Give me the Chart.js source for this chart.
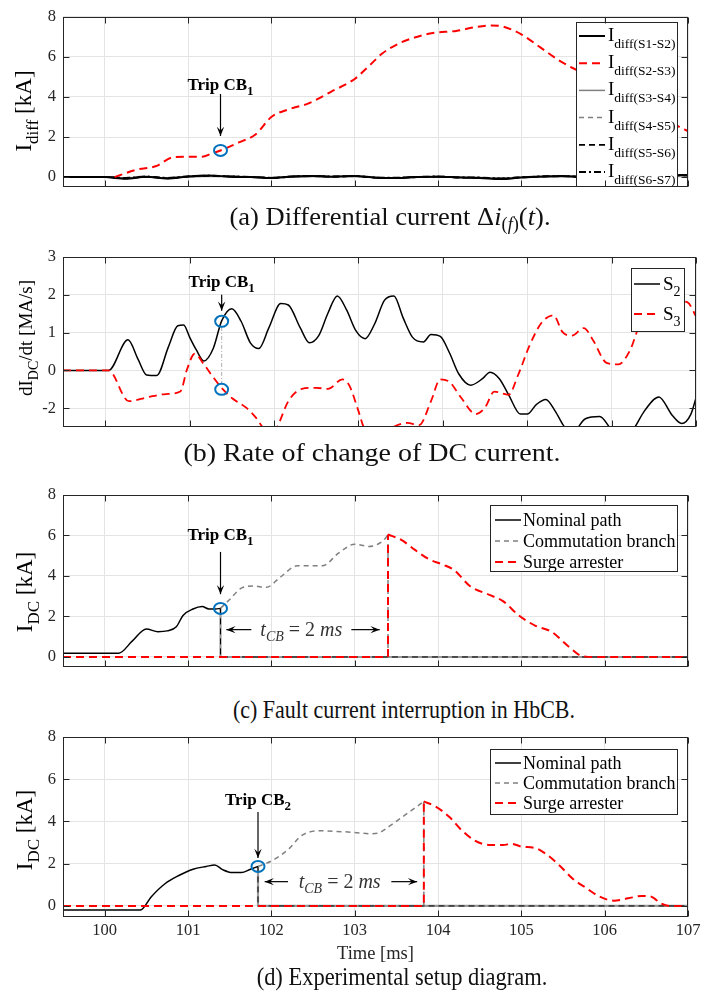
<!DOCTYPE html>
<html>
<head>
<meta charset="utf-8">
<title>HbCB fault current</title>
<script src="https://cdn.jsdelivr.net/npm/chart.js@4.4.1/dist/chart.umd.min.js"></script>
<style>
  html, body { margin: 0; padding: 0; background: #fff; }
  body { position: relative; width: 723px; height: 992px; overflow: hidden;
         font-family: "Liberation Serif", "Times New Roman", serif; color: #111; }
  canvas { position: absolute; left: 0; }
  .cap { position: absolute; font-size: 26px; white-space: nowrap; }
  .cap sub { font-size: 18px; vertical-align: -5px; }
</style>
</head>
<body>
<canvas id="chartA" width="723" height="204" style="top:0px"></canvas>
<div class="cap" style="left:390px;top:218px;transform:translate(-50%,-50%) scaleX(1.02)">(a) Differential current &Delta;<i>i</i><sub>(<i>f</i>)</sub>(<i>t</i>).</div>
<canvas id="chartB" width="723" height="204" style="top:240px"></canvas>
<div class="cap" style="left:372px;top:453px;transform:translate(-50%,-50%) scaleX(1.077)">(b) Rate of change of DC current.</div>
<canvas id="chartC" width="723" height="206" style="top:478px"></canvas>
<div class="cap" style="left:404px;top:710px;transform:translate(-50%,-50%) scaleX(0.846)">(c) Fault current interruption in HbCB.</div>
<canvas id="chartD" width="723" height="245" style="top:720px"></canvas>
<div class="cap" style="left:402px;top:977px;transform:translate(-50%,-50%) scaleX(0.864)">(d) Experimental setup diagram.</div>

<script>
const SERIF = '"Liberation Serif", "Times New Roman", serif';
const GRID = "#e4e4e4";
const AXIS = "#262626";
const RED = "#ff0000";
const GRAY = "#808080";
const BLUE = "#0072bd";

// shared time axis [ms]
const xMin = 99.5;
const xMax = 107;
const xTicks = [100, 101, 102, 103, 104, 105, 106, 107];

// (a) differential currents [kA]
const aTicks = [0, 2, 4, 6, 8];
const aPairs = ["S1-S2", "S2-S3", "S3-S4", "S4-S5", "S5-S6", "S6-S7"];
const aNoiseT = [99.5, 100, 100.25, 100.5, 100.75, 101, 101.25, 101.5, 101.75, 102, 102.25, 102.5, 102.75, 103, 103.25,
  103.5, 103.75, 104, 104.25, 104.5, 104.75, 105, 105.25, 105.5, 105.75, 106, 106.25, 106.5, 106.75, 107];
const aS1S2 = [0, 0, -0.08, 0.02, -0.07, 0.03, 0.08, 0.02, 0, -0.05, 0.03, 0.05, 0.02, 0.06, -0.03,
  -0.05, 0, 0.02, -0.02, -0.04, -0.1, -0.02, 0.03, 0.05, 0, 0.02, 0.06, 0.05, 0.08, 0.1];
const aS3S4 = [0, 0, -0.05, 0, -0.05, 0.02, 0.05, 0.03, 0.02, -0.03, 0.02, 0.04, 0.03, 0.04, -0.02,
  -0.04, 0.01, 0.01, -0.01, -0.03, -0.07, -0.01, 0.02, 0.04, 0.01, 0.03, 0.05, 0.04, 0.06, 0.08];
const aS4S5 = [0, 0, -0.03, 0.01, -0.03, 0.01, 0.04, 0.02, 0.01, -0.02, 0.01, 0.03, 0.02, 0.03, -0.02,
  -0.03, 0.01, 0, -0.01, -0.02, -0.05, 0, 0.02, 0.03, 0.01, 0.02, 0.04, 0.03, 0.05, 0.06];
const aS5S6 = [0, 0, -0.06, 0.01, -0.06, 0.02, 0.06, 0.03, 0, -0.04, 0.02, 0.05, 0.02, 0.05, -0.03,
  -0.04, 0, 0.02, -0.02, -0.03, -0.08, -0.02, 0.03, 0.04, 0, 0.02, 0.05, 0.05, 0.07, 0.09];
const aS6S7 = [0, 0, -0.04, 0.03, -0.04, 0.04, 0.07, 0.04, 0.01, -0.03, 0.03, 0.06, 0.03, 0.05, -0.02,
  -0.03, 0.01, 0.03, -0.01, -0.02, -0.06, -0.01, 0.04, 0.05, 0.02, 0.03, 0.06, 0.06, 0.09, 0.11];
const aS2S3T = [100.12, 100.39, 100.61, 100.83, 101, 101.17, 101.28, 101.39, 101.61, 101.81, 102, 102.22, 102.44,
  102.72, 103, 103.17, 103.33, 103.56, 103.72, 103.94, 104.22, 104.44, 104.64, 104.78, 105, 105.22, 105.44,
  105.61, 105.8, 106.2, 106.6, 106.89, 107];
const aS2S3 = [0, 0.38, 0.54, 1.0, 1.02, 1.02, 1.17, 1.33, 1.73, 2.13, 3.0, 3.4, 3.67,
  4.27, 4.9, 5.54, 6.17, 6.73, 6.97, 7.2, 7.3, 7.48, 7.57, 7.52, 7.13, 6.5, 5.86,
  5.46, 5.1, 4.2, 3.2, 2.52, 2.29];

// (b) dI/dt [MA/s]; the negative half of the axis is drawn at half scale
const bTicks = [-2, 0, 1, 2, 3];
const bSeries = ["2", "3"];
const bS2T = [99.5, 100.04, 100.27, 100.39, 100.49, 100.61, 100.75, 100.86, 100.93, 101, 101.08, 101.17, 101.28,
  101.38, 101.5, 101.61, 101.72, 101.82, 101.94, 102.08, 102.17, 102.31, 102.42, 102.53, 102.64, 102.75, 102.86,
  102.97, 103.08, 103.19, 103.31, 103.42, 103.53, 103.64, 103.77, 103.86, 103.97, 104.08, 104.19, 104.33, 104.47,
  104.56, 104.67, 104.78, 104.92, 105, 105.11, 105.22, 105.33, 105.44, 105.53, 105.69, 105.86, 105.97, 106.05,
  106.25, 106.39, 106.56, 106.72, 106.83, 106.94, 107];
const bS2 = [0, 0, 0.81, 0.29, -0.24, -0.27, 0.63, 1.18, 1.2, 0.88, 0.54, 0.25, 0.58,
  1.31, 1.63, 1.3, 0.73, 0.58, 1.13, 1.77, 1.73, 1.13, 0.73, 0.92, 1.52, 1.97, 1.6,
  1.05, 0.84, 1.22, 1.86, 1.97, 1.39, 0.88, 0.75, 0.95, 0.9, 0.46, -0.19, -0.78, -0.44,
  -0.1, -0.44, -1.29, -2.31, -2.31, -1.8, -1.54, -2.14, -2.98, -3.3, -2.56, -2.44, -2.98, -3.5,
  -3.15, -2.14, -1.41, -2.39, -2.81, -2.31, -1.46];
const bS3T = [99.5, 100.04, 100.28, 100.5, 100.72, 100.89, 100.97, 101.06, 101.17, 101.28, 101.39, 101.5, 101.67,
  101.78, 101.86, 101.95, 102.04, 102.17, 102.33, 102.5, 102.64, 102.81, 102.89, 103, 103.06, 103.2, 103.42,
  103.58, 103.72, 103.86, 103.97, 104.08, 104.22, 104.39, 104.5, 104.61, 104.78, 104.89, 105.03, 105.17, 105.31,
  105.42, 105.53, 105.67, 105.78, 105.94, 106.08, 106.22, 106.33, 106.5, 106.7, 106.9, 107];
const bS3 = [0, 0, -1.63, -1.42, -1.25, -1.12, 0.03, 0.44, 0.16, -0.36, -0.98, -1.46, -1.97,
  -2.47, -2.98, -3.6, -2.98, -1.63, -0.98, -0.92, -0.98, -0.47, -0.78, -2.14, -2.98, -3.8, -2.98,
  -2.78, -2.9, -1.63, -0.47, -0.61, -1.46, -2.31, -1.97, -1.12, -1.29, -0.27, 0.67, 1.26, 1.46,
  1.01, 0.92, 1.12, 0.8, 0.2, 0.16, 0.54, 1.18, 1.55, 1.85, 1.8, 1.43];

// (c) HbCB branch currents [kA]
const pathNames = ["Nominal path", "Commutation branch", "Surge arrester"];
const cNomT = [99.5, 100.17, 100.33, 100.5, 100.64, 100.75, 100.86, 100.94, 101.06, 101.17, 101.25, 101.33, 101.39];
const cNom = [0.19, 0.19, 0.78, 1.38, 1.25, 1.29, 1.49, 2.05, 2.37, 2.49, 2.37, 2.37, 2.4];
const cComT = [101.39, 101.5, 101.64, 101.78, 101.94, 102.11, 102.31, 102.61, 102.81, 103, 103.17, 103.33, 103.4];
const cCom = [2.4, 2.84, 3.4, 3.5, 3.44, 3.95, 4.5, 4.5, 5.14, 5.57, 5.46, 5.7, 6.02];
const cSurT = [103.4, 103.56, 103.72, 103.89, 104.06, 104.19, 104.39, 104.61, 104.78, 104.97, 105.17, 105.36,
  105.56, 105.72, 105.89, 107];
const cSur = [6.05, 5.78, 5.3, 4.83, 4.56, 4.3, 3.48, 3.08, 2.76, 2.05, 1.54, 1.25, 0.54, 0.06, 0, 0];

// (d) experimental setup [kA]
const dNomT = [99.5, 100.43, 100.56, 100.72, 100.89, 101.06, 101.22, 101.32, 101.42, 101.53, 101.64, 101.75, 101.84];
const dNom = [-0.19, -0.19, 0.44, 1.04, 1.44, 1.74, 1.87, 1.94, 1.71, 1.58, 1.58, 1.74, 1.87];
const dComT = [101.84, 101.94, 102.06, 102.22, 102.36, 102.56, 102.78, 103, 103.19, 103.28, 103.44, 103.61, 103.83];
const dCom = [1.87, 2.02, 2.26, 2.74, 3.32, 3.56, 3.53, 3.48, 3.42, 3.45, 3.84, 4.32, 4.95];
const dSurT = [103.83, 103.97, 104.14, 104.28, 104.44, 104.61, 104.78, 104.89, 105, 105.17, 105.31, 105.47,
  105.61, 105.78, 105.94, 106.11, 106.28, 106.44, 106.56, 106.67, 106.78, 107];
const dSur = [4.95, 4.71, 4.2, 3.6, 3.1, 2.89, 2.89, 2.94, 2.81, 2.74, 2.42, 1.87,
  1.31, 0.84, 0.44, 0.25, 0.36, 0.47, 0.44, 0.13, 0, 0];

const toPos = (v) => (v < 0 ? v / 2 : v);
const fromPos = (p) => (p < 0 ? p * 2 : p);
const F = (size, style) => (style ? style + " " : "") + size + "px " + SERIF;

function pts(ts, vs, f) {
  return ts.map((t, i) => ({ x: t, y: f ? f(vs[i]) : vs[i] }));
}
function curve(data, color, width, dash) {
  return { data, borderColor: color, borderWidth: width, borderDash: dash || [],
    cubicInterpolationMode: "monotone", pointRadius: 0, fill: false };
}
function straight(data, color, width, dash) {
  return { data, borderColor: color, borderWidth: width, borderDash: dash || [],
    tension: 0, pointRadius: 0, fill: false };
}

function runsWidth(ctx, runs) {
  let w = 0;
  for (const r of runs) { ctx.font = r.f; w += ctx.measureText(r.t).width; }
  return w;
}
function drawRuns(ctx, runs, x, y, align) {
  let cx = align === "center" ? x - runsWidth(ctx, runs) / 2 : x;
  ctx.textAlign = "left";
  ctx.textBaseline = "alphabetic";
  for (const r of runs) {
    ctx.font = r.f;
    ctx.fillStyle = r.c || "#000";
    ctx.fillText(r.t, cx, y + (r.dy || 0));
    cx += ctx.measureText(r.t).width;
  }
}
function arrowTo(ctx, x1, y1, x2, y2, size) {
  ctx.beginPath(); ctx.moveTo(x1, y1); ctx.lineTo(x2, y2); ctx.stroke();
  const a = Math.atan2(y2 - y1, x2 - x1);
  ctx.beginPath();
  ctx.moveTo(x2, y2);
  ctx.lineTo(x2 - size * Math.cos(a - 0.38), y2 - size * Math.sin(a - 0.38));
  ctx.lineTo(x2 - size * 0.55 * Math.cos(a), y2 - size * 0.55 * Math.sin(a));
  ctx.lineTo(x2 - size * Math.cos(a + 0.38), y2 - size * Math.sin(a + 0.38));
  ctx.closePath();
  ctx.fill();
}
function drawLegend(ctx, L, top) {
  const y0 = L.y - top;
  ctx.fillStyle = "#fff";
  ctx.fillRect(L.x, y0, L.w, L.h);
  ctx.strokeStyle = AXIS; ctx.lineWidth = 1; ctx.setLineDash([]);
  ctx.strokeRect(L.x + 0.5, y0 + 0.5, L.w, L.h);
  L.items.forEach((it, i) => {
    const ly = L.first - top + i * L.step;
    ctx.strokeStyle = it.color; ctx.lineWidth = it.width; ctx.setLineDash(it.dash || []);
    ctx.beginPath(); ctx.moveTo(L.lx0, ly); ctx.lineTo(L.lx1, ly); ctx.stroke();
    ctx.setLineDash([]);
    drawRuns(ctx, it.runs, L.tx, ly + L.dy, "left");
  });
}

// annotations, legend box and MATLAB-like frame
const figureDeco = {
  id: "figureDeco",
  afterDatasetsDraw(chart, args, o) {
    const ctx = chart.ctx;
    const area = chart.chartArea;
    const X = (v) => chart.scales.x.getPixelForValue(v);
    const Y = (v) => chart.scales.y.getPixelForValue(v);
    ctx.save();
    if (o.guide) {
      ctx.strokeStyle = "#9a9a9a"; ctx.lineWidth = 0.8; ctx.setLineDash([4, 2, 1, 2]);
      ctx.beginPath();
      ctx.moveTo(X(o.guide.x), Y(o.guide.y1));
      ctx.lineTo(X(o.guide.x), Y(o.guide.y2));
      ctx.stroke();
      ctx.setLineDash([]);
    }
    for (const c of o.circles || []) {
      ctx.strokeStyle = BLUE; ctx.lineWidth = 2;
      ctx.beginPath(); ctx.ellipse(X(c.x), Y(c.y), 6.5, 5.5, 0, 0, Math.PI * 2); ctx.stroke();
    }
    if (o.trip) {
      const t = o.trip, px = X(t.x);
      drawRuns(ctx, t.runs, px, Y(t.textY), "center");
      ctx.strokeStyle = "#000"; ctx.fillStyle = "#000"; ctx.lineWidth = 1.2;
      arrowTo(ctx, px, Y(t.from), px, Y(t.to), 10);
    }
    if (o.tcb) {
      const t = o.tcb, py = Y(t.y);
      ctx.strokeStyle = "#000"; ctx.fillStyle = "#000"; ctx.lineWidth = 1.2;
      arrowTo(ctx, X(t.l2), py, X(t.l1), py, 10);
      arrowTo(ctx, X(t.r1), py, X(t.r2), py, 10);
      drawRuns(ctx, t.runs, X(t.tx), py + 6, "center");
    }
    if (o.legend) drawLegend(ctx, o.legend, o.top);

    const l = Math.round(area.left) + 0.5, tp = Math.round(area.top) + 0.5;
    const r = Math.round(area.right) - 0.5, b = Math.round(area.bottom) - 0.5;
    ctx.strokeStyle = AXIS; ctx.lineWidth = 1; ctx.setLineDash([]);
    ctx.strokeRect(l, tp, r - l, b - tp);
    ctx.beginPath();
    for (const tk of chart.scales.x.ticks) {
      const px = Math.round(X(tk.value)) + 0.5;
      ctx.moveTo(px, b); ctx.lineTo(px, b - 6);
      ctx.moveTo(px, tp); ctx.lineTo(px, tp + 6);
    }
    for (const tk of chart.scales.y.ticks) {
      const py = Math.round(Y(tk.value)) + 0.5;
      ctx.moveTo(l, py); ctx.lineTo(l + 6, py);
      ctx.moveTo(r, py); ctx.lineTo(r - 6, py);
    }
    ctx.stroke();
    ctx.restore();
  },
  afterDraw(chart, args, o) {
    if (!o.ylabel) return;
    const ctx = chart.ctx;
    ctx.save();
    ctx.translate(o.ylabel.x, o.ylabel.cy - o.top);
    ctx.rotate(-Math.PI / 2);
    drawRuns(ctx, o.ylabel.runs, 0, 0, "center");
    ctx.restore();
  },
};
Chart.register(figureDeco);

function makeChart(id, cfg) {
  const tickFont = { family: SERIF, size: 16.5 };
  return new Chart(document.getElementById(id), {
    type: "line",
    data: { datasets: cfg.datasets },
    options: {
      responsive: false,
      animation: false,
      events: [],
      layout: { padding: { left: 0, top: cfg.padTop, right: 723 - cfg.right, bottom: 0 } },
      plugins: {
        legend: { display: false },
        tooltip: { enabled: false },
        figureDeco: Object.assign({ top: cfg.top }, cfg.deco),
      },
      scales: {
        x: {
          type: "linear", min: xMin, max: xMax,
          afterBuildTicks: (s) => { s.ticks = xTicks.map((v) => ({ value: v })); },
          afterFit: (s) => { s.height = cfg.xh; },
          grid: { color: GRID, drawTicks: false },
          border: { display: false },
          ticks: { display: !!cfg.xLabels, font: tickFont, color: AXIS, padding: 4, maxRotation: 0,
            callback: (v) => String(v) },
          title: cfg.xLabels
            ? { display: true, text: "Time [ms]", font: { family: SERIF, size: 18.5 }, color: AXIS,
                padding: { top: 0, bottom: 0 } }
            : { display: false },
        },
        y: {
          type: "linear", min: cfg.yMin, max: cfg.yMax,
          afterBuildTicks: (s) => { s.ticks = cfg.yTicks.map((v) => ({ value: v })); },
          afterFit: (s) => { s.width = 63; },
          grid: { color: GRID, drawTicks: false },
          border: { display: false },
          ticks: { font: tickFont, color: AXIS, padding: 7, callback: cfg.yFormat || ((v) => String(v)) },
        },
      },
    },
  });
}

const tripRuns = (n) => [{ t: "Trip CB", f: F(17, "bold") }, { t: n, f: F(13, "bold"), dy: 5 }];
const tcbRuns = [
  { t: "t", f: F(20, "italic"), c: "#333" },
  { t: "CB", f: F(14, "italic"), dy: 5, c: "#333" },
  { t: " = 2 ", f: F(20), c: "#333" },
  { t: "ms", f: F(20, "italic"), c: "#333" },
];
const kALabel = (sub) => [{ t: "I", f: F(23) }, { t: sub, f: F(17), dy: 7 }, { t: " [kA]", f: F(23) }];
const pathLegend = (first, step, y, h) => ({
  x: 490, y, w: 187, h, lx0: 495, lx1: 521, tx: 523, first, step, dy: 6,
  items: [
    { color: "#000", width: 1.5, runs: [{ t: pathNames[0], f: F(18) }] },
    { color: GRAY, width: 1.5, dash: [5, 4], runs: [{ t: pathNames[1], f: F(18) }] },
    { color: RED, width: 2, dash: [8, 5], runs: [{ t: pathNames[2], f: F(18) }] },
  ],
});

// (a)
const aStyles = [
  { color: "#000", width: 2, dash: [] },
  { color: RED, width: 2, dash: [8, 5] },
  { color: GRAY, width: 1.5, dash: [] },
  { color: GRAY, width: 1.5, dash: [5, 4] },
  { color: "#000", width: 1.8, dash: [6, 4] },
  { color: "#000", width: 1.8, dash: [7, 3, 2, 3] },
];
makeChart("chartA", {
  top: 0, padTop: 15, right: 688, xh: 10.5, yMin: -0.5, yMax: 8, yTicks: aTicks,
  datasets: [
    curve(pts(aS2S3T, aS2S3), RED, 2, [8, 5]),
    curve(pts(aNoiseT, aS1S2), "#000", 2),
    curve(pts(aNoiseT, aS5S6), "#000", 1.8, [6, 4]),
    curve(pts(aNoiseT, aS6S7), "#000", 1.8, [7, 3, 2, 3]),
    curve(pts(aNoiseT, aS3S4), GRAY, 1.5),
    curve(pts(aNoiseT, aS4S5), GRAY, 1.5, [5, 4]),
  ],
  deco: {
    circles: [{ x: 101.39, y: 1.33 }],
    trip: { x: 101.39, textY: 4.33, from: 4.15, to: 2.05, runs: tripRuns("1") },
    legend: {
      x: 576, y: 22, w: 101, h: 164, lx0: 579, lx1: 605, tx: 608, first: 36, step: 27.2, dy: 5,
      items: aPairs.map((p, i) => Object.assign({
        runs: [{ t: "I", f: F(19) }, { t: "diff(" + p + ")", f: F(13.5), dy: 7 }],
      }, aStyles[i])),
    },
    ylabel: { x: 31, cy: 111, runs: kALabel("diff") },
  },
});

// (b)
makeChart("chartB", {
  top: 240, padTop: 17, right: 696, xh: 10.5, yMin: -1.5, yMax: 3, yTicks: bTicks.map(toPos),
  yFormat: (v) => String(fromPos(v)),
  datasets: [
    curve(pts(bS3T, bS3, toPos), RED, 1.8, [8, 5]),
    curve(pts(bS2T, bS2, toPos), "#000", 1.5),
  ],
  deco: {
    guide: { x: 101.38, y1: toPos(1.3) - 0.15, y2: toPos(-1.0) + 0.15 },
    circles: [{ x: 101.38, y: toPos(1.3) }, { x: 101.38, y: toPos(-1.0) }],
    trip: { x: 101.38, textY: 2.21, from: 2.0, to: 1.58, runs: tripRuns("1") },
    legend: {
      x: 631, y: 268, w: 53, h: 63, lx0: 634, lx1: 660, tx: 663, first: 284, step: 30, dy: 6,
      items: [
        { color: "#000", width: 1.5, runs: [{ t: "S", f: F(19) }, { t: bSeries[0], f: F(14), dy: 6 }] },
        { color: RED, width: 1.8, dash: [8, 5], runs: [{ t: "S", f: F(19) }, { t: bSeries[1], f: F(14), dy: 6 }] },
      ],
    },
    ylabel: { x: 32, cy: 338, runs: [{ t: "dI", f: F(19) }, { t: "DC", f: F(14), dy: 6 }, { t: "/dt [MA/s]", f: F(19) }] },
  },
});

// (c) and (d) share the same branch layout
function branchSets(nomT, nom, comT, com, surT, sur) {
  const trip = comT[0], clear = surT[0];
  return [
    curve(pts(surT, sur), RED, 2, [8, 5]),
    straight([{ x: xMin, y: 0 }, { x: clear, y: 0 }, { x: clear, y: sur[0] }], RED, 2, [8, 5]),
    curve(pts(nomT, nom), "#000", 1.5),
    curve(pts(comT, com), GRAY, 1.5, [5, 4]),
    straight([{ x: clear, y: com[com.length - 1] }, { x: clear, y: 0 }], GRAY, 1.5, [5, 4]),
    straight([{ x: trip, y: nom[nom.length - 1] }, { x: trip, y: 0 }, { x: xMax, y: 0 }], "#000", 1, [6, 4]),
    straight([{ x: trip, y: nom[nom.length - 1] }, { x: trip, y: 0 }, { x: xMax, y: 0 }], "#9a9a9a", 2.2),
  ];
}

makeChart("chartC", {
  top: 478, padTop: 17, right: 688, xh: 10.5, yMin: -0.5, yMax: 8, yTicks: aTicks,
  datasets: branchSets(cNomT, cNom, cComT, cCom, cSurT, cSur),
  deco: {
    circles: [{ x: 101.39, y: 2.4 }],
    trip: { x: 101.39, textY: 5.76, from: 5.19, to: 3.1, runs: tripRuns("1") },
    tcb: { l1: 101.46, l2: 101.76, r1: 102.96, r2: 103.3, tx: 102.36, y: 1.35, runs: tcbRuns },
    legend: pathLegend(520, 21, 505, 66),
    ylabel: { x: 32, cy: 592, runs: kALabel("DC") },
  },
});

makeChart("chartD", {
  top: 720, padTop: 17, right: 688, xh: 48.5, yMin: -0.5, yMax: 8, yTicks: aTicks, xLabels: true,
  datasets: branchSets(dNomT, dNom, dComT, dCom, dSurT, dSur),
  deco: {
    circles: [{ x: 101.84, y: 1.87 }],
    trip: { x: 101.84, textY: 4.79, from: 4.45, to: 2.27, runs: tripRuns("2") },
    tcb: { l1: 101.92, l2: 102.2, r1: 103.44, r2: 103.75, tx: 102.82, y: 1.15, runs: tcbRuns },
    legend: pathLegend(763, 20, 749, 65),
    ylabel: { x: 32, cy: 830, runs: kALabel("DC") },
  },
});
</script>
</body>
</html>
